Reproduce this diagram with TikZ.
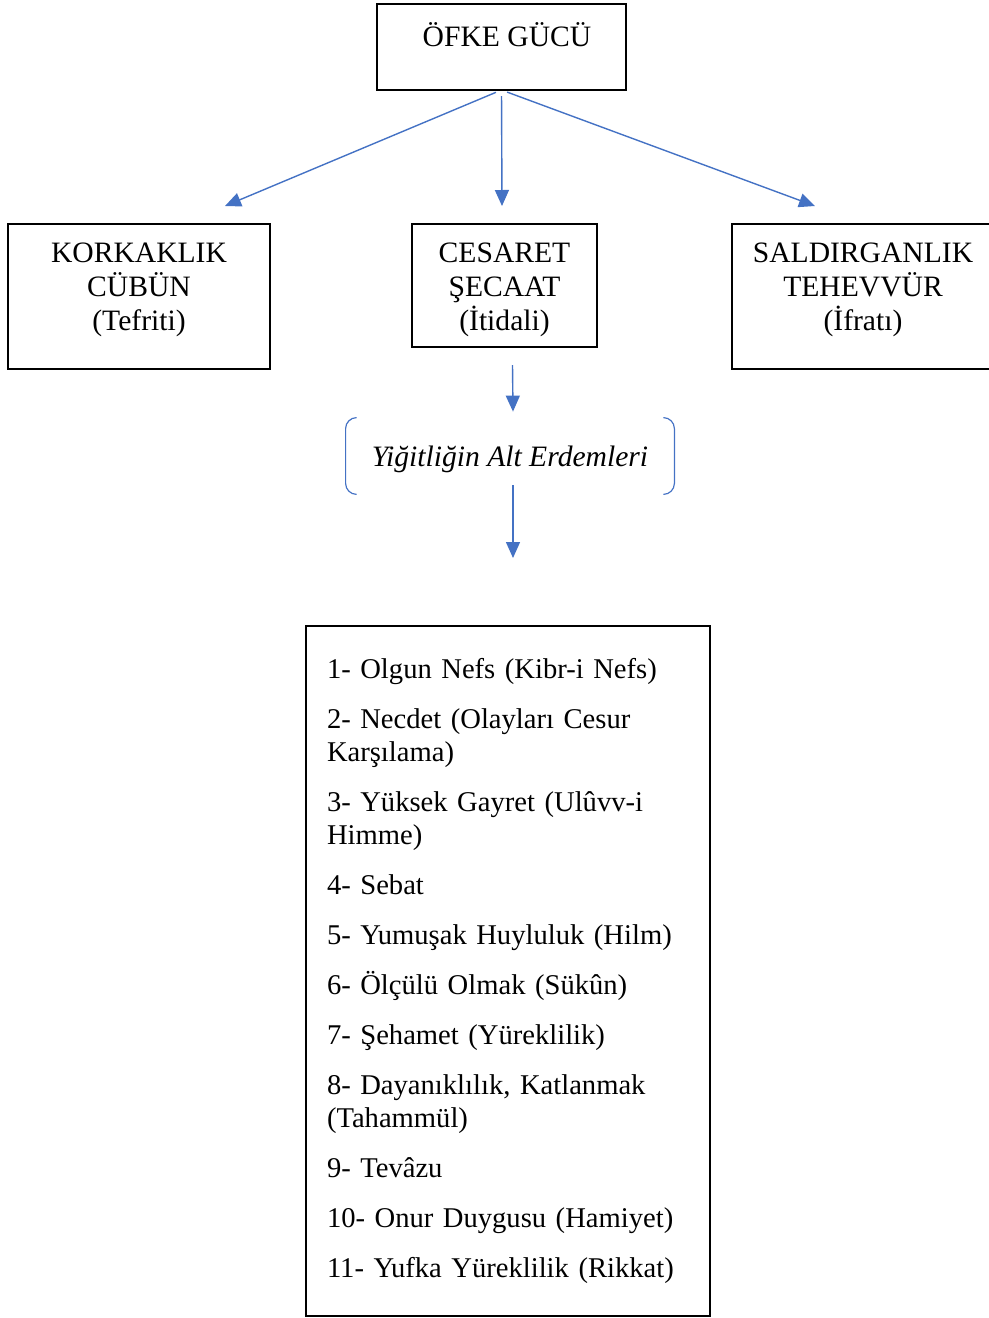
\documentclass[tikz,border=0pt]{standalone}
\usepackage{fontspec}
\setmainfont{Liberation Serif}
\usepackage{tikz}
\usetikzlibrary{arrows.meta, positioning, calc}
\definecolor{okmavi}{RGB}{68,114,196}

\begin{document}
\begin{tikzpicture}[x=0.5pt, y=-0.5pt,
  font=\fontsize{14.8}{17}\selectfont,
  kutu/.style={draw, line width=1.3pt, inner sep=0pt, outer sep=0pt},
  yazi/.style={align=center, inner sep=0pt},
  ok/.style={color=okmavi, line width=0.7pt, -{Triangle[length=8pt,width=7pt]}},
  parantez/.style={draw=okmavi, line width=0.6pt, rounded corners=5.5pt}]
\useasboundingbox (0,0) rectangle (989,1318);
\clip (0,0) rectangle (989,1318);

% Ana kutu
\node[kutu, minimum width=124.5pt, minimum height=43pt] (ofke) at (501.5,47) {};
\node[yazi] (ofkeYazi) at (507,35) {ÖFKE GÜCÜ};

% Uc durum
\node[kutu, minimum width=131pt, minimum height=72.5pt] (korkaklik) at (139,296.5) {};
\node[yazi] (korkaklikYazi) at (139,289.5) {KORKAKLIK\\CÜBÜN\\(Tefriti)};
\node[kutu, minimum width=92.5pt, minimum height=61.5pt] (cesaret) at (504.5,285.5) {};
\node[yazi] (cesaretYazi) at (504.5,289.5) {CESARET\\ŞECAAT\\(İtidali)};
\node[kutu, minimum width=131pt, minimum height=72.5pt] (saldirganlik) at (863,296.5) {};
\node[yazi] (saldirganlikYazi) at (863,289.5) {SALDIRGANLIK\\TEHEVVÜR\\(İfratı)};

% Ok uclari
\coordinate (solUc) at (225,206);
\coordinate (ortaUc) at (502,206);
\coordinate (sagUc) at (815,206);

% Oklar
\draw[ok, shorten <=3pt] (ofke.south) -- (solUc);
\draw[ok, shorten <=3pt] (ofke.south) -- (ortaUc);
\draw[ok, shorten <=3pt] (ofke.south) -- (sagUc);

% Alt erdemler basligi
\node[yazi, font=\fontsize{14.8}{17}\selectfont\itshape, minimum width=164pt, minimum height=38pt, text height=12pt, text depth=2pt] (alt) at (510,456) {Yiğitliğin Alt Erdemleri};
\draw[parantez] ([xshift=5.5pt]alt.north west) -- (alt.north west) -- (alt.south west) -- ([xshift=5.5pt]alt.south west);
\draw[parantez] ([xshift=-5.5pt]alt.north east) -- (alt.north east) -- (alt.south east) -- ([xshift=-5.5pt]alt.south east);

% Liste
\node[kutu, anchor=north west, minimum width=202pt, minimum height=345pt, text width=181pt, align=left, inner xsep=10.5pt, font=\fontsize{14.3}{16.6}\selectfont] (erdemler) at (306,626) {%
1- Olgun Nefs (Kibr-i Nefs)\\[8.4pt]
2- Necdet (Olayları Cesur\\Karşılama)\\[8.4pt]
3- Yüksek Gayret (Ulûvv-i\\Himme)\\[8.4pt]
4- Sebat\\[8.4pt]
5- Yumuşak Huyluluk (Hilm)\\[8.4pt]
6- Ölçülü Olmak (Sükûn)\\[8.4pt]
7- Şehamet (Yüreklilik)\\[8.4pt]
8- Dayanıklılık, Katlanmak\\(Tahammül)\\[8.4pt]
9- Tevâzu\\[8.4pt]
10- Onur Duygusu (Hamiyet)\\[8.4pt]
11- Yufka Yüreklilik (Rikkat)};

\draw[ok] ([xshift=4pt,yshift=-9pt]cesaret.south) -- ([xshift=1.5pt,yshift=3pt]alt.north);
\draw[ok] ([xshift=1.5pt,yshift=4.5pt]alt.south) -- ([xshift=2.5pt,yshift=34pt]erdemler.north);
\end{tikzpicture}
\end{document}
